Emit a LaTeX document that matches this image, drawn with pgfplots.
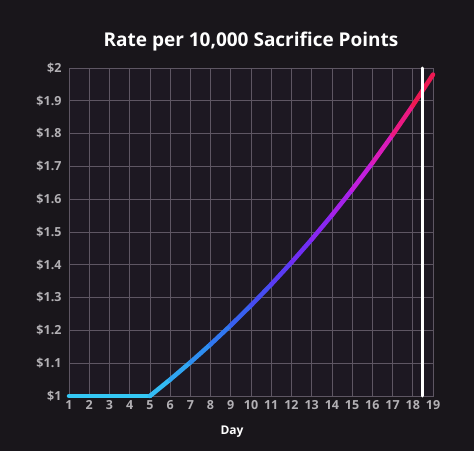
\documentclass[border=0pt]{standalone}
\usepackage{pgfplots}
\pgfplotsset{compat=1.18}
\usepackage{fontspec}
\setmainfont{Open Sans}

\definecolor{bg}{HTML}{19161B}
\definecolor{plotbg}{HTML}{1D1822}
\definecolor{gridc}{HTML}{5E5663}
\definecolor{ticklab}{HTML}{B2B0B4}

\pgfplotsset{
  colormap={rate}{
    rgb255(0cm)=(52,200,245)
    rgb255(3cm)=(45,130,240)
    rgb255(5cm)=(60,85,240)
    rgb255(7cm)=(100,50,245)
    rgb255(9cm)=(150,35,240)
    rgb255(11cm)=(210,30,215)
    rgb255(12.5cm)=(235,25,130)
    rgb255(14cm)=(240,25,60)
  }
}

\begin{document}
\begin{tikzpicture}[x=1pt,y=1pt]
\fill[bg] (0,0) rectangle (474,451);
\begin{axis}[
  at={(69pt,55pt)}, anchor=south west,
  scale only axis, width=364pt, height=328pt,
  xmin=1, xmax=19, ymin=1, ymax=2,
  axis background/.style={fill=plotbg},
  axis line style={gridc, line width=0.7pt},
  grid=major,
  major grid style={gridc, line width=0.7pt},
  tick style={draw=none},
  xtick={1,2,...,19},
  ytick={1,1.1,1.2,1.3,1.4,1.5,1.6,1.7,1.8,1.9,2},
  yticklabels={\$1,\$1.1,\$1.2,\$1.3,\$1.4,\$1.5,\$1.6,\$1.7,\$1.8,\$1.9,\$2},
  /pgf/number format/assume math mode=true,
  ticklabel style={font=\bfseries\fontsize{12.5}{12.5}\selectfont, text=ticklab},
  xticklabel style={yshift=-1pt},
  yticklabel style={xshift=-4pt},
  clip=false,
]
\addplot[mesh, point meta=x, point meta min=5, point meta max=19,
  colormap name=rate, line width=4.5pt, line cap=round, line join=round]
  coordinates {
  (1,1) (2,1) (3,1) (4,1) (5,1)
  (6,1.05) (7,1.1025) (8,1.1576) (9,1.2155) (10,1.2763)
  (11,1.3401) (12,1.4071) (13,1.4775) (14,1.5513) (15,1.6289)
  (16,1.7103) (17,1.7959) (18,1.8856) (19,1.9799)
  };
\addplot[white, line width=3pt, line cap=round] coordinates {(18.5,1) (18.5,2)};
\end{axis}
\node[white, font=\bfseries\fontsize{19}{19}\selectfont] at (251,409) {Rate per 10,000 Sacrifice Points};
\node[white, font=\bfseries\fontsize{12}{12}\selectfont] at (232,19) {Day};
\pgfresetboundingbox
\useasboundingbox (0,0) rectangle (474,451);
\end{tikzpicture}
\end{document}
